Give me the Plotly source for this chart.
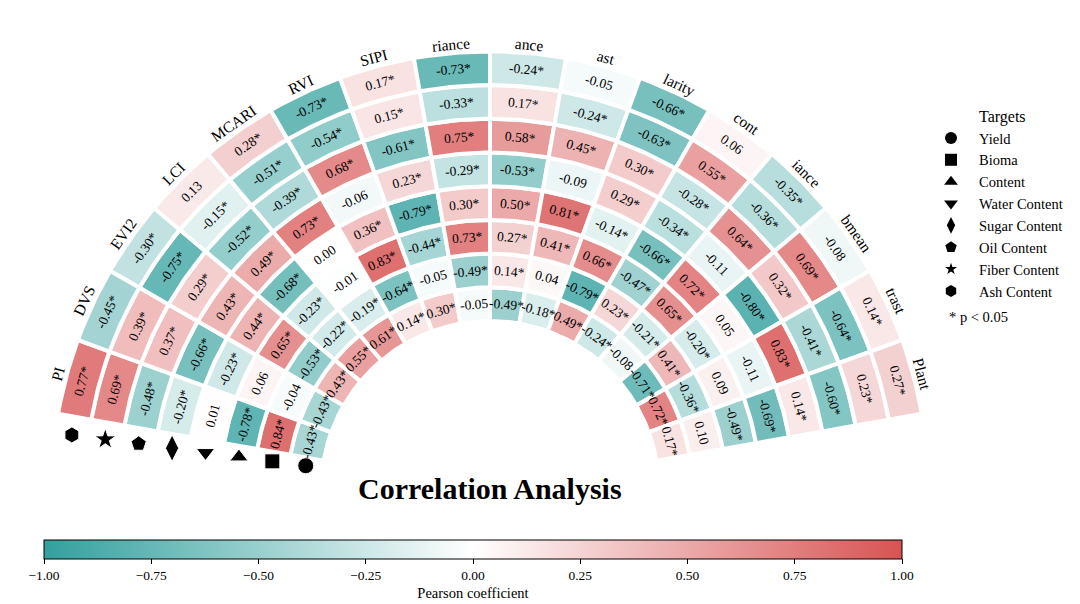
import numpy as np
import plotly.graph_objects as go

# columns around the half ring, left to right
features = ["PI", "DVS", "EVI2", "LCI", "MCARI", "RVI", "SIPI", "riance",
            "ance", "ast", "larity", "cont", "iance", "bmean", "trast", "Plant"]
# rings, inner to outer
targets = ["Yield", "Bioma", "Content", "Water Content", "Sugar Content",
           "Oil Content", "Fiber Content", "Ash Content"]
symbols = ["circle", "square", "triangle-up", "triangle-down", "diamond-tall",
           "pentagon", "star", "hexagon"]

yield_r = [-0.43, -0.43, 0.43, 0.55, 0.61, 0.14, 0.30, -0.05,
           -0.49, -0.18, 0.49, -0.24, -0.08, -0.71, 0.72, 0.17]
bioma_r = [0.84, -0.04, -0.53, -0.22, -0.19, -0.64, -0.05, -0.49,
           0.14, 0.04, -0.79, 0.23, -0.21, 0.41, -0.36, 0.10]
content_r = [-0.78, 0.06, 0.65, -0.23, -0.01, 0.83, -0.44, 0.73,
             0.27, 0.41, 0.66, -0.47, 0.65, -0.20, 0.09, -0.49]
water_r = [0.01, -0.23, 0.44, -0.68, 0.00, 0.36, -0.79, 0.30,
           0.50, 0.81, -0.14, -0.66, 0.72, 0.05, -0.11, -0.69]
sugar_r = [-0.20, -0.66, 0.43, 0.49, 0.73, -0.06, 0.23, -0.29,
           -0.53, -0.09, 0.29, -0.34, -0.11, -0.80, 0.83, 0.14]
oil_r = [-0.48, 0.37, 0.29, -0.52, -0.39, 0.68, -0.61, 0.75,
         0.58, 0.45, 0.30, -0.28, 0.64, 0.32, -0.41, -0.60]
fiber_r = [0.69, 0.39, -0.75, -0.15, -0.51, -0.54, 0.15, -0.33,
           0.17, -0.24, -0.63, 0.55, -0.36, 0.69, -0.64, 0.23]
ash_r = [0.77, -0.45, -0.30, 0.13, 0.28, -0.73, 0.17, -0.73,
         -0.24, -0.05, -0.66, 0.06, -0.35, -0.08, 0.14, 0.27]

rings = [yield_r, bioma_r, content_r, water_r, sugar_r, oil_r, fiber_r, ash_r]
R_SIG = 0.135  # |r| above this -> p < 0.05

colorscale = [[0.0, "#32a09d"], [0.5, "#ffffff"], [1.0, "#d85353"]]
FONT = "Liberation Serif"

# page has an 8px body margin, so the figure is 8px smaller than the window
W, H = 1072, 596
# geometry (units = pixels, origin at ring centre)
R_IN, DR = 169.0, 33.7
T_START, DT = 170.0, 10.0


def px(x):  # window pixel -> paper x
    return (x - 8) / W


def py(y):  # window pixel -> paper y
    return 1 - (y - 8) / H


def to_color(v):
    t = (v + 1) / 2
    for (p0, c0), (p1, c1) in zip(colorscale[:-1], colorscale[1:]):
        if t <= p1:
            a = np.array([int(c0[i:i + 2], 16) for i in (1, 3, 5)])
            b = np.array([int(c1[i:i + 2], 16) for i in (1, 3, 5)])
            c = a + (b - a) * (t - p0) / (p1 - p0)
            return "rgb(%d,%d,%d)" % tuple(np.round(c))
    return colorscale[-1][1]


def polar_xy(r, deg):
    a = np.radians(deg)
    return r * np.cos(a), r * np.sin(a)


fig = go.Figure()
annotations = []

for k, vals in enumerate(rings):
    r0, r1 = R_IN + k * DR, R_IN + (k + 1) * DR
    for j, v in enumerate(vals):
        t1 = T_START - j * DT
        t0 = t1 - DT
        tt = np.linspace(t0, t1, 24)
        xo, yo = polar_xy(r1, tt)
        xi, yi = polar_xy(r0, tt[::-1])
        xs = np.concatenate([xo, xi, xo[:1]])
        ys = np.concatenate([yo, yi, yo[:1]])
        fig.add_trace(go.Scatter(x=xs, y=ys, mode="lines", fill="toself",
                                 fillcolor=to_color(v),
                                 line=dict(color="white", width=4),
                                 hoverinfo="skip", showlegend=False))
        tc = (t0 + t1) / 2
        cx, cy = polar_xy((r0 + r1) / 2, tc)
        label = f"{v:.2f}" + ("*" if abs(v) > R_SIG else "")
        annotations.append(dict(x=cx, y=cy, xref="x", yref="y", text=label,
                                showarrow=False, textangle=90 - tc,
                                font=dict(family=FONT, size=13.5, color="black")))

# column labels
for j, name in enumerate(features):
    tc = T_START - j * DT - DT / 2
    lx, ly = polar_xy(R_IN + len(targets) * DR + 9, tc)
    annotations.append(dict(x=lx, y=ly, xref="x", yref="y", text=name,
                            showarrow=False, textangle=90 - tc,
                            font=dict(family=FONT, size=15.5, color="black")))

# ring markers next to the first column
mr = [R_IN + (k + 0.5) * DR for k in range(len(targets))]
mx, my = polar_xy(np.array(mr), 172.5)
fig.add_trace(go.Scatter(x=mx, y=my, mode="markers", hoverinfo="skip",
                         showlegend=False,
                         marker=dict(symbol=symbols, color="black", opacity=1,
                                     size=[16, 15, 16, 16, 19, 16, 16, 16])))

# legend entries
for name, sym in zip(targets, symbols):
    fig.add_trace(go.Scatter(x=[None], y=[None], mode="markers", name=name,
                             marker=dict(symbol=sym, color="black",
                                         size=9 if sym == "star" else 12)))

# colour bar
fig.add_trace(go.Scatter(
    x=[None], y=[None], mode="markers", showlegend=False, hoverinfo="skip",
    marker=dict(color=[0], cmin=-1, cmax=1, colorscale=colorscale, showscale=True,
                colorbar=dict(orientation="h", x=px(473), xanchor="center",
                              y=py(540), yanchor="top", len=858 / W,
                              lenmode="fraction", thickness=19, xpad=0, ypad=0,
                              outlinecolor="black", outlinewidth=1,
                              tickvals=[-1, -0.75, -0.5, -0.25, 0, 0.25, 0.5, 0.75, 1],
                              tickformat=".2f", ticks="outside", ticklen=5,
                              tickcolor="black",
                              tickfont=dict(family=FONT, size=13.5, color="black"),
                              title=dict(text="Pearson coefficient", side="bottom",
                                         font=dict(family=FONT, size=14.5, color="black"))))))

annotations += [
    dict(x=0, y=2, xref="x", yref="y", text="<b>Correlation Analysis</b>",
         showarrow=False, font=dict(family=FONT, size=30, color="black")),
    dict(x=px(1002), y=py(117), xref="paper", yref="paper", text="Targets",
         xanchor="center", yanchor="middle", showarrow=False,
         font=dict(family=FONT, size=16, color="black")),
    dict(x=px(978), y=py(317), xref="paper", yref="paper", text="* p &lt; 0.05",
         xanchor="center", yanchor="middle", showarrow=False,
         font=dict(family=FONT, size=14.5, color="black")),
]

fig.update_layout(
    width=W, height=H,
    margin=dict(l=0, r=0, t=0, b=0, pad=0),
    paper_bgcolor="white", plot_bgcolor="white",
    xaxis=dict(range=[8 - 490, 8 + W - 490], visible=False, fixedrange=True),
    yaxis=dict(range=[490 - 8 - H, 490 - 8], visible=False, fixedrange=True),
    annotations=annotations,
    legend=dict(x=px(923), y=py(122), xanchor="left", yanchor="top",
                itemwidth=46, bgcolor="rgba(0,0,0,0)",
                font=dict(family=FONT, size=14.5, color="black")),
)

fig.write_html("out.html")
